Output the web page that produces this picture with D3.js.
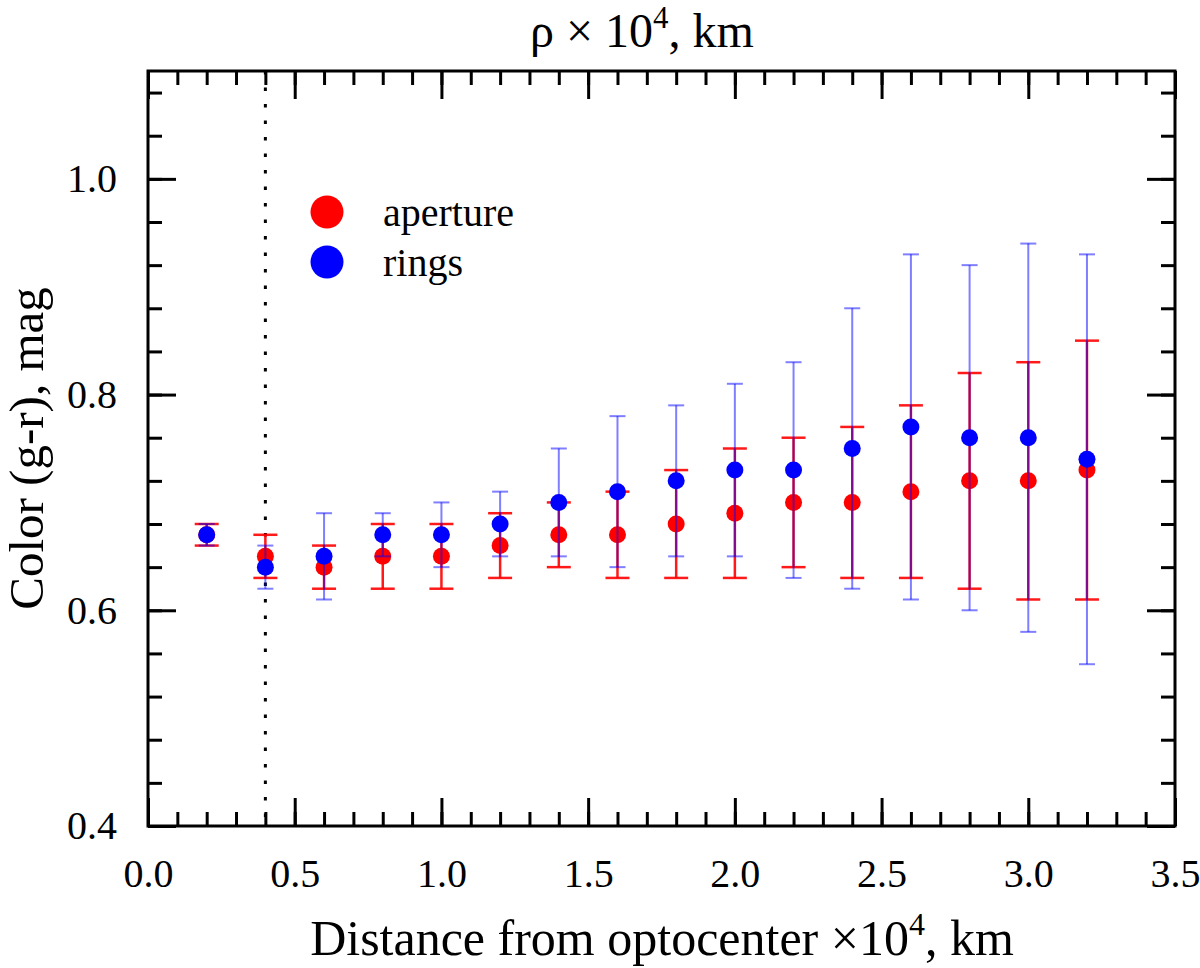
<!DOCTYPE html>
<html>
<head>
<meta charset="utf-8">
<script src="https://cdn.jsdelivr.net/npm/d3@7"></script>
<style>
    body { margin: 0; background: #fff; }
    text { font-family: "Liberation Serif", "Times New Roman", serif; fill: #000; }
</style>
</head>
<body>
<div id="chart"></div>
<script>
// distance from optocenter, x10^4 km
const distances = [0.2, 0.4, 0.6, 0.8, 1.0, 1.2, 1.4, 1.6, 1.8, 2.0, 2.2, 2.4, 2.6, 2.8, 3.0, 3.2];

// color (g-r) measured in apertures
const apertureColor = [0.67, 0.65, 0.64, 0.65, 0.65, 0.66, 0.67, 0.67, 0.68, 0.69, 0.70, 0.70, 0.71, 0.72, 0.72, 0.73];
const apertureLow   = [0.66, 0.63, 0.62, 0.62, 0.62, 0.63, 0.64, 0.63, 0.63, 0.63, 0.64, 0.63, 0.63, 0.62, 0.61, 0.61];
const apertureHigh  = [0.68, 0.67, 0.66, 0.68, 0.68, 0.69, 0.70, 0.71, 0.73, 0.75, 0.76, 0.77, 0.79, 0.82, 0.83, 0.85];

// color (g-r) measured in rings
const ringsColor = [0.67, 0.64, 0.65, 0.67, 0.67, 0.68, 0.70, 0.71, 0.72, 0.73, 0.73, 0.75, 0.77, 0.76, 0.76, 0.74];
const ringsLow   = [0.66, 0.62, 0.61, 0.65, 0.64, 0.65, 0.65, 0.64, 0.65, 0.65, 0.63, 0.62, 0.61, 0.60, 0.58, 0.55];
const ringsHigh  = [0.68, 0.66, 0.69, 0.69, 0.70, 0.71, 0.75, 0.78, 0.79, 0.81, 0.83, 0.88, 0.93, 0.92, 0.94, 0.93];

// axes
const xMajorTicks = [0.0, 0.5, 1.0, 1.5, 2.0, 2.5, 3.0, 3.5];
const xMinorTicks = d3.range(0, 36).map(i => i / 10);
const yMajorTicks = [0.4, 0.6, 0.8, 1.0];
const yMinorTicks = d3.range(0, 18).map(i => 0.4 + i * 0.04);
const aperLimit = 0.4;   // dotted vertical line

const seriesNames = ['aperture', 'rings'];

class ErrorPlot {
    constructor(_config) {
        this.config = {
            parentElement: _config.parentElement,
            containerWidth: _config.containerWidth || 1200,
            containerHeight: _config.containerHeight || 968,
            margin: _config.margin || {top: 71, right: 25, bottom: 142, left: 148},
        }
        this.initVis();
    }

    initVis() {
        let vis = this;

        vis.width = vis.config.containerWidth - vis.config.margin.left - vis.config.margin.right;
        vis.height = vis.config.containerHeight - vis.config.margin.top - vis.config.margin.bottom;

        vis.xScale = d3.scaleLinear().domain([0, 3.5]).range([0, vis.width]);
        vis.yScale = d3.scaleLinear().domain([0.4, 1.1]).range([vis.height, 0]);

        vis.svg = d3.select(vis.config.parentElement).append('svg')
            .attr('width', vis.config.containerWidth)
            .attr('height', vis.config.containerHeight);
        vis.visG = vis.svg.append('g')
            .attr('transform', `translate(${vis.config.margin.left},${vis.config.margin.top})`);

        // ticks point inward on all four sides
        const fmt = d3.format('.1f');
        const axes = [
            {axis: d3.axisBottom(vis.xScale).tickValues(xMajorTicks).tickSize(-28).tickPadding(33).tickFormat(fmt), t: [0, vis.height]},
            {axis: d3.axisBottom(vis.xScale).tickValues(xMinorTicks).tickSize(-14).tickFormat(''), t: [0, vis.height]},
            {axis: d3.axisTop(vis.xScale).tickValues(xMajorTicks).tickSize(-28).tickFormat(''), t: [0, 0]},
            {axis: d3.axisTop(vis.xScale).tickValues(xMinorTicks).tickSize(-14).tickFormat(''), t: [0, 0]},
            {axis: d3.axisLeft(vis.yScale).tickValues(yMajorTicks).tickSize(-28).tickPadding(31).tickFormat(fmt), t: [0, 0]},
            {axis: d3.axisLeft(vis.yScale).tickValues(yMinorTicks).tickSize(-14).tickFormat(''), t: [0, 0]},
            {axis: d3.axisRight(vis.yScale).tickValues(yMajorTicks).tickSize(-28).tickFormat(''), t: [vis.width, 0]},
            {axis: d3.axisRight(vis.yScale).tickValues(yMinorTicks).tickSize(-14).tickFormat(''), t: [vis.width, 0]},
        ];
        axes.forEach(a => {
            const g = vis.visG.append('g')
                .attr('transform', `translate(${a.t[0]},${a.t[1]})`)
                .call(a.axis);
            g.select('.domain').remove();
            g.selectAll('line').attr('stroke', '#000').attr('stroke-width', 3);
            g.selectAll('text')
                .style('font-family', '"Liberation Serif", "Times New Roman", serif')
                .style('font-size', '40px')
                .attr('fill', '#000');
        });

        // frame
        vis.visG.append('rect')
            .attr('width', vis.width)
            .attr('height', vis.height)
            .attr('fill', 'none')
            .attr('stroke', '#000')
            .attr('stroke-width', 3);

        // dotted line
        vis.visG.append('line')
            .attr('x1', vis.xScale(aperLimit)).attr('x2', vis.xScale(aperLimit))
            .attr('y1', 0).attr('y2', vis.height)
            .attr('stroke', '#000')
            .attr('stroke-width', 3)
            .attr('stroke-dasharray', '3.5,13');

        // titles
        const top = vis.svg.append('text')
            .attr('x', 642).attr('y', 47)
            .attr('text-anchor', 'middle')
            .style('font-size', '48px');
        top.append('tspan').text('ρ × 10');
        top.append('tspan').attr('dy', -19).style('font-size', '31px').text('4');
        top.append('tspan').attr('dy', 19).text(', km');

        const xt = vis.svg.append('text')
            .attr('x', 662).attr('y', 955)
            .attr('text-anchor', 'middle')
            .style('font-size', '50px');
        xt.append('tspan').text('Distance from optocenter ×10');
        xt.append('tspan').attr('dy', -20).style('font-size', '32px').text('4');
        xt.append('tspan').attr('dy', 20).text(', km');

        vis.svg.append('text')
            .attr('transform', `translate(43,${vis.config.margin.top + vis.height / 2}) rotate(-90)`)
            .attr('text-anchor', 'middle')
            .style('font-size', '49px')
            .text('Color (g-r), mag');

        vis.barsG = vis.visG.append('g');
        vis.legendG = vis.svg.append('g');
    }

    updateVis() {
        let vis = this;

        vis.series = [
            {name: seriesNames[0], color: '#ff0000', capW: 12, sw: 2.5, opacity: 0.9,
                data: distances.map((d, i) => ({x: d, y: apertureColor[i], lo: apertureLow[i], hi: apertureHigh[i]}))},
            {name: seriesNames[1], color: '#0000ff', capW: 8, sw: 2, opacity: 0.5,
                data: distances.map((d, i) => ({x: d, y: ringsColor[i], lo: ringsLow[i], hi: ringsHigh[i]}))},
        ];

        vis.renderVis();
    }

    renderVis() {
        let vis = this;
        const x = vis.xScale, y = vis.yScale;

        vis.series.forEach(s => {
            const g = vis.barsG.append('g')
                .attr('stroke', s.color)
                .attr('stroke-width', s.sw)
                .attr('stroke-opacity', s.opacity);

            g.selectAll('.whisker').data(s.data).join('line')
                .attr('class', 'whisker')
                .attr('x1', d => x(d.x)).attr('x2', d => x(d.x))
                .attr('y1', d => y(d.lo)).attr('y2', d => y(d.hi));
            g.selectAll('.cap-hi').data(s.data).join('line')
                .attr('class', 'cap-hi')
                .attr('x1', d => x(d.x) - s.capW).attr('x2', d => x(d.x) + s.capW)
                .attr('y1', d => y(d.hi)).attr('y2', d => y(d.hi));
            g.selectAll('.cap-lo').data(s.data).join('line')
                .attr('class', 'cap-lo')
                .attr('x1', d => x(d.x) - s.capW).attr('x2', d => x(d.x) + s.capW)
                .attr('y1', d => y(d.lo)).attr('y2', d => y(d.lo));

            vis.barsG.append('g').selectAll('circle').data(s.data).join('circle')
                .attr('cx', d => x(d.x))
                .attr('cy', d => y(d.y))
                .attr('r', 8.5)
                .attr('fill', s.color);
        });

        // legend
        const items = vis.legendG.selectAll('g').data(vis.series).join('g')
            .attr('transform', (d, i) => `translate(327,${212 + i * 50})`);
        items.append('circle')
            .attr('r', 16.5)
            .attr('fill', d => d.color);
        items.append('text')
            .attr('x', 56).attr('y', 14)
            .style('font-size', '40px')
            .text(d => d.name);
    }
}

const chart = new ErrorPlot({parentElement: '#chart'});
chart.updateVis();
</script>
</body>
</html>
